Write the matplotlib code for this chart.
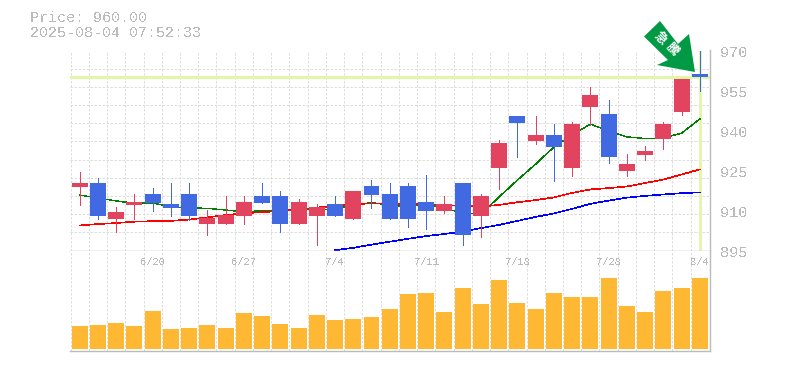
import numpy as np
import matplotlib
matplotlib.use("Agg")
import matplotlib.pyplot as plt
from matplotlib.patches import Polygon

plt.rcParams['font.family'] = ['Liberation Mono', 'Noto Sans CJK JP', 'DejaVu Sans']
plt.rcParams['text.antialiased'] = False

# 始値 高値 安値 終値
opens = [918.8, 920.3, 906.8, 912.0, 916.2, 912.4, 916.2, 904.9, 904.9, 907.9, 915.4, 915.4,
         904.9, 907.9, 912.4, 906.8, 919.2, 916.2, 919.2, 913.2, 909.8, 920.3, 907.9, 926.0,
         945.4, 936.0, 938.3, 926.0, 948.8, 946.2, 924.8, 930.8, 936.8, 947.0, 961.2]
highs = [924.4, 922.2, 911.3, 916.2, 918.4, 920.3, 920.3, 910.2, 915.4, 915.4, 920.3, 917.3,
         914.3, 912.4, 915.4, 917.3, 921.4, 920.3, 920.3, 923.3, 915.4, 920.3, 916.2, 936.4,
         945.4, 945.4, 942.4, 943.2, 956.3, 951.4, 931.2, 934.2, 943.2, 959.3, 970.0]
lows = [912.0, 906.8, 902.0, 906.8, 909.8, 907.9, 906.4, 900.8, 904.9, 904.9, 912.8, 902.0,
        904.9, 897.1, 907.9, 906.8, 910.9, 906.8, 903.8, 903.1, 909.0, 897.1, 900.1, 918.0,
        930.0, 935.0, 921.0, 922.9, 942.0, 927.8, 922.9, 928.9, 933.0, 945.8, 954.8]
closes = [920.3, 907.9, 909.4, 913.2, 912.8, 910.9, 907.9, 907.2, 908.3, 913.2, 912.8, 904.9,
          913.2, 911.3, 907.9, 917.3, 915.8, 906.8, 906.8, 909.8, 912.4, 900.8, 915.4, 935.3,
          942.8, 938.3, 933.8, 942.4, 953.3, 930.0, 927.4, 932.3, 942.4, 959.3, 960.2]

# 移動平均
ma_short = [915.8, 914.7, 913.6, 912.7, 912.8, 911.4, 911.0, 910.8, 910.2, 909.5, 909.9, 910.1,
            910.4, 910.2, 910.6, 912.1, 912.9, 912.1, 911.4, 912.7, 910.7, 909.2, 908.7, 915.1,
            921.4, 927.4, 933.8, 938.3, 942.4, 939.8, 937.6, 937.0, 937.2, 939.0, 944.3]
ma_mid = [904.4, 904.9, 905.3, 905.8, 906.0, 906.1, 906.6, 907.4, 908.3, 908.9, 909.4, 909.8,
          910.4, 911.1, 911.7, 912.3, 912.7, 912.6, 912.4, 912.4, 912.1, 911.7, 911.5, 912.1,
          913.1, 913.9, 914.9, 916.6, 917.9, 918.4, 919.0, 920.3, 921.6, 923.5, 925.4]
ma_long = [np.nan] * 14 + [895.1, 896.0, 897.2, 898.3, 899.4, 900.4, 901.2, 902.1, 903.4, 904.6,
                           906.1, 907.6, 908.9, 910.6, 912.5, 913.7, 914.8, 915.5, 916.0, 916.5, 916.8]

# 出来高
volumes = [23, 24, 26, 23, 38, 20, 21, 24, 21, 36, 33, 25, 21, 34, 29, 30, 32, 40,
           55, 56, 37, 61, 45, 69, 46, 40, 56, 52, 52, 71, 43, 37, 58, 61, 71]

date_idx = [4, 9, 14, 19, 24, 29, 34]
date_labels = ['6/20', '6/27', '7/4', '7/11', '7/18', '7/28', '8/4']
price_ticks = [970, 955, 940, 925, 910, 895]
last_price = 960

GREY = '#bbbbbb'
GRID = '#dddddd'
UP = '#e2445f'
DOWN = '#4169e1'
W, H = 785, 370

fig = plt.figure(figsize=(W / 100, H / 100), dpi=100)
ax = fig.add_axes([70 / W, 1 - 250.5 / H, 640 / W, 200 / H])
ax2 = fig.add_axes([70 / W, 1 - 350.5 / H, 640 / W, 100 / H])

x = np.arange(len(closes)) + 0.5
dash = (0, (2.5, 1.5))

for a in (ax, ax2):
    a.set_xlim(-0.03, 35.06)
    a.set_xticks(np.arange(len(closes)))
    a.tick_params(axis='x', length=0, labelbottom=False)
    a.grid(True, axis='x', color=GRID, lw=0.72, ls=dash)
    a.set_axisbelow(True)
    for s in ['top', 'left']:
        a.spines[s].set_visible(False)
    for s in ['right', 'bottom']:
        a.spines[s].set_color(GREY)
        a.spines[s].set_linewidth(1)

# 価格
ax.set_ylim(895, 970)
ax.set_yticks(np.linspace(895, 970, 12)[1:], minor=True)
ax.set_yticks([])
ax.tick_params(axis='y', which='minor', length=0)
ax.grid(True, axis='y', which='minor', color=GRID, lw=0.72, ls=dash)
for t in price_ticks:
    ax.annotate(str(t), (1, t), xycoords=('axes fraction', 'data'), xytext=(7, -1.9),
                textcoords='offset points', color=GREY, fontsize=11, va='center', annotation_clip=False)

ax.axhline(last_price, color='#e2f5a9', lw=2.2, zorder=1.5)
ax.axvline(x[-1], color='#e2f5a9', lw=2, zorder=1.5)

ax.plot(x, ma_short, color='#008000', lw=0.3, zorder=2, antialiased=False)
ax.plot(x, ma_mid, color='#ff0000', lw=0.45, zorder=2, antialiased=False)
ax.plot(x, ma_long, color='#0000ff', lw=0.45, zorder=2, antialiased=False)

colors = [UP if c >= o else DOWN for o, c in zip(opens, closes)]
ax.vlines(x, lows, highs, colors=colors, lw=0.72, zorder=3, antialiased=False)
bottoms = np.minimum(opens, closes)
heights = np.abs(np.array(closes) - np.array(opens))
ax.bar(x, heights, bottom=bottoms, width=0.875, color=colors, zorder=4, antialiased=False)

# 出来高パネル
ax2.set_ylim(-2, 98)
ax2.set_yticks([])
ax2.bar(x, volumes, width=0.875, color='#ffb833', zorder=3, antialiased=False)
for i, lab in zip(date_idx, date_labels):
    ax2.text(x[i], 86.5, lab, color=GREY, fontsize=7.6, ha='center', va='center', zorder=1)

fig.text(30 / W, 1 - 18 / H, 'Price: 960.00', color=GREY, fontsize=10.8, va='center')
fig.text(30 / W, 1 - 33 / H, '2025-08-04 07:52:33', color=GREY, fontsize=10.8, va='center')

# 矢印バッジ
arrow_px = [(660, 21), (644, 36.5), (668, 60), (657, 65), (695, 72), (689, 34), (678, 44)]
arrow = Polygon([(px / W, 1 - py / H) for px, py in arrow_px], closed=True,
                transform=fig.transFigure, facecolor='#009944', edgecolor='none', zorder=10)
fig.add_artist(arrow)
for tx, ty, ch in [(660, 38, '急'), (672, 49, '騰')]:
    fig.text(tx / W, 1 - ty / H, ch, color='white', fontsize=9, rotation=-45, family='Noto Sans CJK JP',
             ha='center', va='center', fontweight='bold', zorder=11, antialiased=True)

fig.savefig('out.png', dpi=100)
